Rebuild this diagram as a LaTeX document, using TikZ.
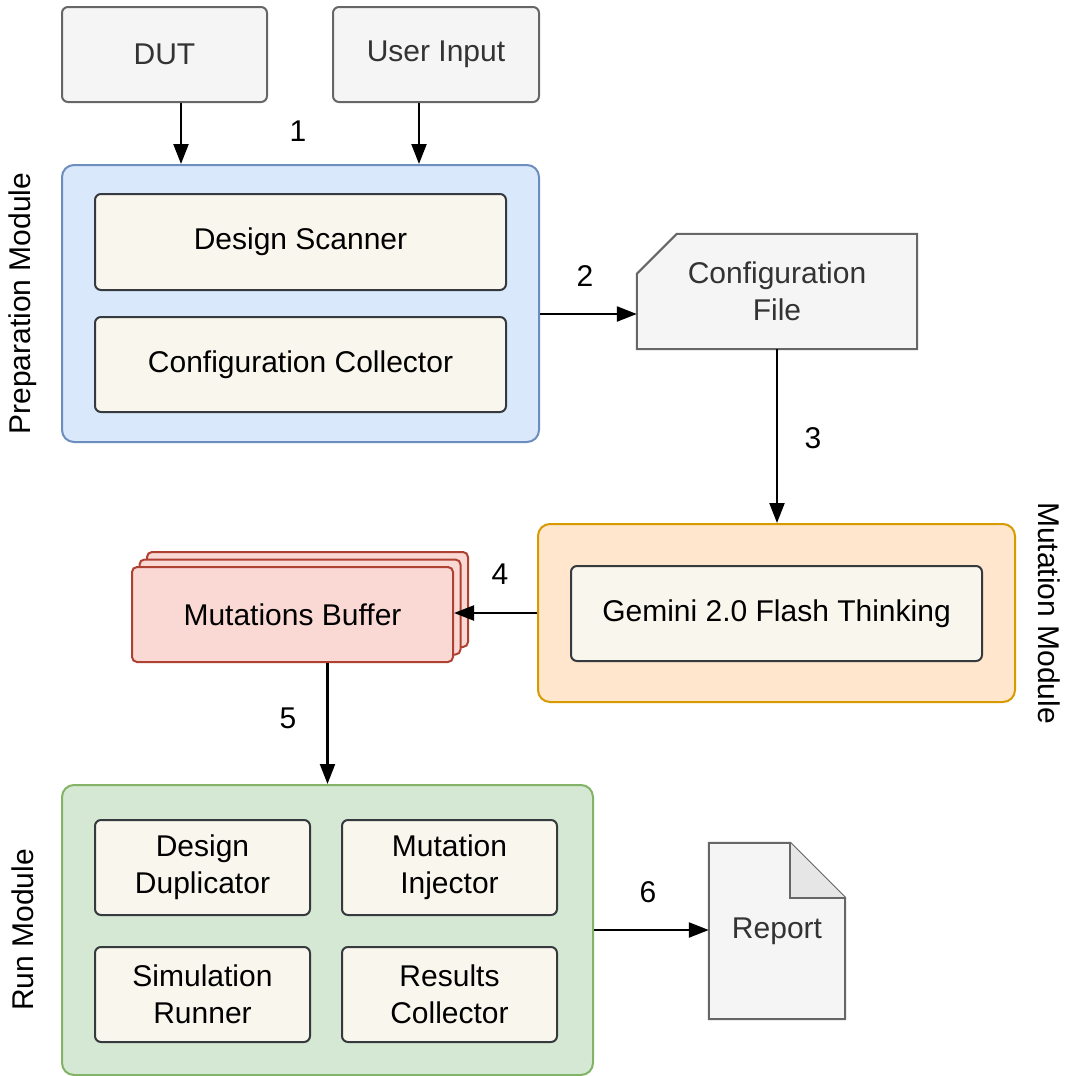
\documentclass[tikz,border=0pt]{standalone}
\usepackage{fontspec}
\setmainfont{Liberation Sans}
\usetikzlibrary{arrows.meta,shadows,backgrounds}

\definecolor{extfill}{HTML}{F5F5F5}
\definecolor{extdraw}{HTML}{666666}
\definecolor{exttext}{HTML}{333333}
\definecolor{partfill}{HTML}{F9F7ED}
\definecolor{partdraw}{HTML}{36393D}
\definecolor{prepfill}{HTML}{DAE8FC}
\definecolor{prepdraw}{HTML}{6C8EBF}
\definecolor{mutfill}{HTML}{FFE6CC}
\definecolor{mutdraw}{HTML}{D79B00}
\definecolor{buffill}{HTML}{FAD9D5}
\definecolor{bufdraw}{HTML}{AE4132}
\definecolor{runfill}{HTML}{D5E8D4}
\definecolor{rundraw}{HTML}{82B366}
\definecolor{foldfill}{HTML}{E6E6E6}

\tikzset{
	txt/.style={font=\fontsize{30}{37}\selectfont},
	box/.style={txt, rectangle, rounded corners=6pt, line width=2pt, inner sep=0pt, align=center},
	ext/.style={box, fill=extfill, draw=extdraw, text=exttext},
	part/.style={box, fill=partfill, draw=partdraw},
	module/.style={box, rounded corners=12pt},
	paper/.style={txt, inner sep=0pt, align=center, text=exttext},
	outline/.style={fill=extfill, draw=extdraw, line width=2pt},
	flow/.style={line width=2.3pt, -{Triangle[length=20pt,width=15pt]}},
	num/.style={txt, inner sep=0pt},
	side/.style={txt, inner sep=0pt}
}

\begin{document}
\begin{tikzpicture}[x=1pt, y=-1pt]
	\useasboundingbox (0,0) rectangle (1066,1076);

	% inputs
	\node[ext, minimum width=205, minimum height=95] (dut) at (164.5,54.5) {DUT};
	\node[ext, minimum width=206, minimum height=95] (user) at (436,54.5) {User Input};

	% Preparation
	\node[module, fill=prepfill, draw=prepdraw, minimum width=477, minimum height=277] (prep) at (300.5,303.5) {};
	\node[part, minimum width=411, minimum height=96] (scan) at (300.5,242) {Design Scanner};
	\node[part, minimum width=411, minimum height=95] (coll) at (300.5,364.5) {Configuration Collector};
	\node[side, rotate=90] (prepname) at ([xshift=-38pt]prep.west) {Preparation Module};

	% config file, cut corner
	\node[paper, minimum width=280, minimum height=115] (cfg) at (777,291.5) {Configuration\\File};
	\begin{scope}[on background layer]
		\draw[outline] ([yshift=-40pt]cfg.north west) -- ([xshift=40pt]cfg.north west)
			-- (cfg.north east) -- (cfg.south east) -- (cfg.south west) -- cycle;
	\end{scope}

	% Mutation
	\node[module, fill=mutfill, draw=mutdraw, minimum width=477, minimum height=178] (mut) at (776.5,613) {};
	\node[part, minimum width=411, minimum height=95] (gem) at (776.5,613.5) {Gemini 2.0 Flash Thinking};
	\node[side, rotate=-90] (mutname) at ([xshift=33pt]mut.east) {Mutation Module};

	% buffer stack
	\node[box, rounded corners=5pt, fill=buffill, draw=bufdraw, minimum width=321, minimum height=95,
		double copy shadow={shadow xshift=7.5pt, shadow yshift=7.5pt, fill=buffill, draw=bufdraw, line width=2pt}]
		(buf) at (292.5,614.5) {Mutations Buffer};

	% Run
	\node[module, fill=runfill, draw=rundraw, minimum width=531, minimum height=290] (run) at (327.5,930) {};
	\node[part, minimum width=215, minimum height=95] (dup) at (202.5,867.5) {Design\\Duplicator};
	\node[part, minimum width=215, minimum height=95] (inj) at (449.5,867.5) {Mutation\\Injector};
	\node[part, minimum width=215, minimum height=95] (sim) at (202.5,994.5) {Simulation\\Runner};
	\node[part, minimum width=215, minimum height=95] (res) at (449.5,994.5) {Results\\Collector};
	\node[side, rotate=90] (runname) at ([xshift=-38pt]run.west) {Run Module};

	% report, folded corner
	\node[paper, minimum width=136, minimum height=176] (rep) at (777,931) {Report};
	\begin{scope}[on background layer]
		\draw[outline] (rep.north west) -- ([xshift=-55pt]rep.north east) -- ([yshift=-55pt]rep.north east)
			-- (rep.south east) -- (rep.south west) -- cycle;
		\draw[outline, fill=foldfill] ([xshift=-55pt]rep.north east) -- ([xshift=-55pt,yshift=-55pt]rep.north east)
			-- ([yshift=-55pt]rep.north east);
	\end{scope}

	% flow
	\draw[flow] ([xshift=16.5pt]dut.south) -- ([xshift=16.5pt]dut.south |- prep.north);
	\draw[flow] ([xshift=-17pt]user.south) -- ([xshift=-17pt]user.south |- prep.north);
	\draw[flow] ([yshift=-10.5pt]prep.east) -- ([yshift=-10.5pt]prep.east -| cfg.west);
	\draw[flow] (cfg.south) -- (cfg.south |- mut.north);
	\draw[flow] (mut.west) -- (mut.west -| buf.east);
	\draw[flow] (run.north |- buf.south) -- (run.north);
	\draw[flow] (run.east) -- (run.east -| rep.west);

	% step numbers
	\node[num] (n1) at (298,131) {1};
	\node[num] (n2) at (585,276) {2};
	\node[num] (n3) at (813,438) {3};
	\node[num] (n4) at (500,574) {4};
	\node[num] (n5) at (288,718) {5};
	\node[num] (n6) at (648,892) {6};
\end{tikzpicture}
\end{document}
